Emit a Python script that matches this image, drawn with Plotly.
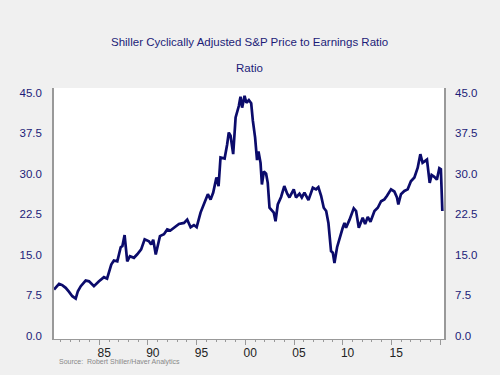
import plotly.graph_objects as go

# Decimal-year dates and Shiller CAPE values
years = [1980.35, 1980.87, 1981.2, 1981.55, 1981.9, 1982.23, 1982.58, 1982.8, 1983.1, 1983.6,
         1983.95, 1984.45, 1984.97, 1985.48, 1985.8, 1986.23, 1986.5, 1986.85, 1987.2, 1987.37,
         1987.6, 1987.87, 1988.15, 1988.56, 1988.9, 1989.3, 1989.66, 1990.1, 1990.33, 1990.54,
         1990.8, 1991.23, 1991.64, 1991.98, 1992.3, 1992.67, 1993.18, 1993.7, 1994.03, 1994.38,
         1994.72, 1995.0, 1995.4, 1995.8, 1996.15, 1996.43, 1996.7, 1997.03, 1997.25, 1997.45,
         1997.87, 1998.13, 1998.3, 1998.48, 1998.75, 1999.0, 1999.33, 1999.5, 1999.67, 1999.92,
         2000.1, 2000.36, 2000.6, 2000.77, 2001.0, 2001.2, 2001.35, 2001.56, 2001.7, 2001.9,
         2002.13, 2002.3, 2002.48, 2002.72, 2002.92, 2003.1, 2003.33, 2003.67, 2004.0, 2004.3,
         2004.53, 2004.97, 2005.2, 2005.56, 2005.8, 2006.07, 2006.48, 2006.93, 2007.26, 2007.5,
         2007.78, 2008.05, 2008.3, 2008.53, 2008.8, 2008.98, 2009.15, 2009.42, 2009.77, 2010.0,
         2010.18, 2010.34, 2010.7, 2011.13, 2011.37, 2011.65, 2012.05, 2012.3, 2012.57, 2012.85,
         2013.26, 2013.6, 2013.94, 2014.28, 2014.55, 2014.96, 2015.3, 2015.57, 2015.71, 2015.98,
         2016.33, 2016.67, 2017.0, 2017.36, 2017.7, 2017.97, 2018.2, 2018.65, 2018.93, 2019.13,
         2019.4, 2019.67, 2019.92, 2020.08, 2020.23]
cape = [8.57, 9.63, 9.4, 8.9, 8.15, 7.35, 6.9, 8.27, 9.2, 10.25,
        10.1, 9.2, 10.1, 10.87, 10.6, 13.2, 13.95, 13.8, 16.4, 16.6,
        18.65, 13.8, 14.75, 14.45, 15.1, 16.0, 17.85, 17.5, 16.9, 17.8,
        15.05, 18.45, 18.8, 19.7, 19.5, 20.0, 20.7, 20.9, 21.5, 20.1,
        20.5, 20.1, 22.8, 24.6, 26.2, 25.2, 26.5, 29.3, 27.7, 33.0,
        32.8, 35.4, 37.6, 37.0, 33.6, 40.4, 42.5, 44.2, 42.2, 44.4,
        43.1, 43.6, 43.0, 39.8, 36.7, 32.5, 34.1, 32.0, 28.0, 30.4,
        30.0, 28.3, 23.7, 23.2, 22.8, 21.2, 24.3, 25.7, 27.7, 26.3,
        25.6, 27.1, 25.6, 26.3, 25.6, 26.5, 25.1, 27.4, 27.1, 27.5,
        25.9, 23.7, 23.1, 20.9, 15.7, 15.4, 13.5, 16.4, 18.75, 20.0,
        20.9, 20.0, 21.5, 23.6, 23.1, 20.0, 21.85, 20.7, 22.0, 21.1,
        23.1, 23.7, 24.9, 25.25, 25.9, 27.1, 26.7, 25.6, 24.3, 26.2,
        26.8, 27.1, 28.6, 29.3, 31.1, 33.6, 32.0, 32.6, 28.3, 29.75,
        29.4, 28.9, 31.0, 30.8, 23.1]

y_ticks = [0, 7.5, 15, 22.5, 30, 37.5, 45]
y_labels = ["0.0", "7.5", "15.0", "22.5", "30.0", "37.5", "45.0"]
major_years = [1985, 1990, 1995, 2000, 2005, 2010, 2015, 2020]
label_years = [1985.5, 1990.5, 1995.5, 2000.5, 2005.5, 2010.5, 2015.5]
x_labels = ["85", "90", "95", "00", "05", "10", "15"]

NAVY = "#1c1c78"
XR = [1980.35, 2020.4]
YR = [-0.56, 45.83]

fig = go.Figure()
fig.add_trace(go.Scatter(x=years, y=cape, mode="lines",
                         line=dict(color="#0b0b6b", width=2.7), showlegend=False,
                         hoverinfo="skip"))
# empty helper trace so the secondary axes are drawn
fig.add_trace(go.Scatter(x=[None], y=[None], xaxis="x2", yaxis="y2", showlegend=False,
                         hoverinfo="skip"))

fig.update_layout(
    width=500, height=375,
    margin=dict(l=54, r=56, t=88, b=36),
    paper_bgcolor="#f0f0f0", plot_bgcolor="#ffffff",
    font=dict(family="Liberation Sans, Arial, sans-serif", color=NAVY, size=11),
    xaxis=dict(range=XR, tickvals=major_years, ticktext=[""] * len(major_years),
               ticks="outside", ticklen=5, tickcolor="#999999", tickwidth=1,
               minor=dict(tick0=1980, dtick=1, ticks="outside", ticklen=2,
                          tickcolor="#999999", tickwidth=1),
               showline=True, linecolor="#999999", linewidth=1, showgrid=False,
               zeroline=False, fixedrange=True),
    xaxis2=dict(range=XR, overlaying="x", anchor="y", side="bottom",
                tickvals=label_years, ticktext=x_labels, ticks="",
                tickfont=dict(color="#222222", size=12), showgrid=False,
                showline=False, zeroline=False, ticklabelstandoff=5),
    yaxis=dict(range=YR, tickvals=y_ticks, ticktext=y_labels, ticks="",
               showline=True, linecolor="#999999", linewidth=1.5, showgrid=False,
               zeroline=False, ticklabelstandoff=8, tickfont=dict(size=11.5, color=NAVY)),
    yaxis2=dict(range=YR, overlaying="y", anchor="x", side="right",
                tickvals=y_ticks, ticktext=y_labels, ticks="",
                showline=True, linecolor="#999999", linewidth=1.5, showgrid=False,
                zeroline=False, ticklabelstandoff=7, tickfont=dict(size=11.5, color=NAVY)),
    annotations=[
        dict(text="Shiller Cyclically Adjusted S&P Price to Earnings Ratio",
             xref="paper", yref="paper", x=0.5, y=1, yshift=46, showarrow=False,
             font=dict(size=11.5, color=NAVY), xanchor="center", yanchor="middle"),
        dict(text="Ratio", xref="paper", yref="paper", x=0.5, y=1, yshift=20,
             showarrow=False, font=dict(size=11.5, color=NAVY),
             xanchor="center", yanchor="middle"),
        dict(text="Source:  Robert Shiller/Haver Analytics", xref="paper", yref="paper",
             x=0, y=0, xshift=3, yshift=-23, showarrow=False,
             font=dict(size=7, color="#888888"), xanchor="left", yanchor="middle"),
    ],
)

fig.write_html("out.html", config={"displayModeBar": False},
               post_script="document.body.style.margin='0';document.body.style.padding='0';")
